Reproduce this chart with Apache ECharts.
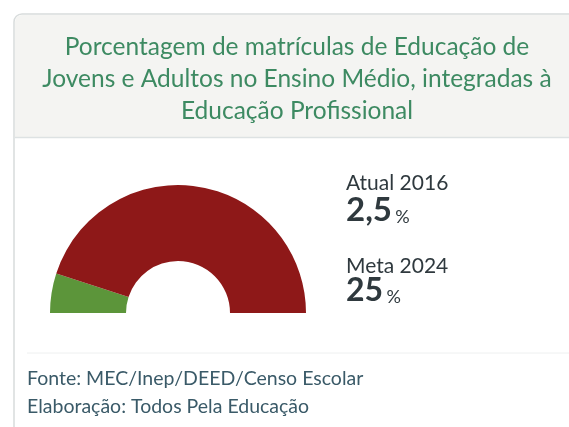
<!DOCTYPE html>
<html>
<head>
<meta charset="utf-8">
<script src="https://cdn.jsdelivr.net/npm/echarts@6/dist/echarts.min.js"></script>
<style>
  html, body { margin: 0; padding: 0; background: #fff; }
  #echarts { width: 569px; height: 427px; }
</style>
</head>
<body>
<div id="echarts"></div>
<script>
// dados
var titulo = 'Porcentagem de matrículas de Educação de\nJovens e Adultos no Ensino Médio, integradas à\nEducação Profissional';
var rotulos = ['Atual 2016', 'Meta 2024'];
var valores = [2.5, 25];            // atual, meta
var valoresTexto = ['2,5', '25'];
var fonte = ['Fonte: MEC/Inep/DEED/Censo Escolar', 'Elaboração: Todos Pela Educação'];

window.onload = function(){
    var atual = valores[0], meta = valores[1];
    function valorRich(txt, fs){
        return {
            text: '{v|' + txt + '} {p|%}',
            rich: {
                v: { fontSize: fs, fontWeight: 'bold', fill: '#2f393e', fontFamily: 'Lato', verticalAlign: 'bottom' },
                p: { fontSize: 18, fill: '#2f393e', fontFamily: 'Lato', verticalAlign: 'bottom', padding: [0, 0, 1, 0] }
            }
        };
    }
    var option = {
        backgroundColor: '#fff',
        animation: false,
        textStyle: { fontFamily: 'Lato' },
        graphic: [
            {   // cartão
                type: 'rect',
                shape: { x: 14, y: 14, width: 570, height: 430, r: 8 },
                style: { fill: '#fff', stroke: '#d8dcdc', lineWidth: 1.5 },
                z: 0
            },
            {   // cabeçalho
                type: 'rect',
                shape: { x: 15, y: 15, width: 570, height: 122, r: [7, 0, 0, 0] },
                style: { fill: '#f4f4f2' },
                z: 1
            },
            {
                type: 'line',
                shape: { x1: 15, y1: 137.5, x2: 569, y2: 137.5 },
                style: { stroke: '#dde2e3', lineWidth: 1.5 },
                z: 1
            },
            {
                type: 'line',
                shape: { x1: 27, y1: 353, x2: 569, y2: 353 },
                style: { stroke: '#eef0f0', lineWidth: 1 },
                z: 1
            },
            {
                type: 'text', x: 297, y: 31, z: 2,
                style: {
                    text: titulo, align: 'center', verticalAlign: 'top',
                    fill: '#3d8a62', font: '24.5px Lato', lineHeight: 32
                }
            },
            {   type: 'text', x: 346, y: 173, z: 2,
                style: { text: rotulos[0], fill: '#2f393e', font: '21px Lato' } },
            {   type: 'text', x: 346, y: 194, z: 2,
                style: valorRich(valoresTexto[0], 33) },
            {   type: 'text', x: 346, y: 256, z: 2,
                style: { text: rotulos[1], fill: '#2f393e', font: '21px Lato' } },
            {   type: 'text', x: 346, y: 275, z: 2,
                style: valorRich(valoresTexto[1], 32) },
            {   type: 'text', x: 27, y: 369, z: 2,
                style: { text: fonte[0], fill: '#3a5a68', font: '19.5px Lato' } },
            {   type: 'text', x: 27, y: 397, z: 2,
                style: { text: fonte[1], fill: '#3a5a68', font: '19.5px Lato' } }
        ],
        series: [{
            type: 'pie',
            center: [178, 313],
            radius: [52, 128],
            startAngle: 180,
            clockwise: true,
            silent: true,
            label: { show: false },
            labelLine: { show: false },
            z: 3,
            data: [
                { value: atual, itemStyle: { color: '#5c953a' } },
                { value: meta - atual, itemStyle: { color: '#8e1818' } },
                { value: meta, itemStyle: { color: 'transparent' } }
            ]
        }]
    };
    var myChart = echarts.init(document.getElementById('echarts'));
    myChart.setOption(option);
    window.onresize = function(){ myChart.resize(); };
};
</script>
</body>
</html>
